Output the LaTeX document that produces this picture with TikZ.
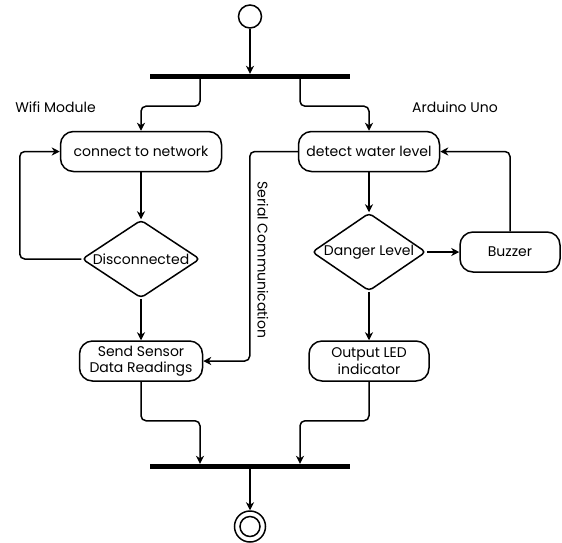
\documentclass[tikz,border=0pt]{standalone}
\usepackage{fontspec}
\setmainfont{Poppins}
\usetikzlibrary{arrows.meta,shapes.geometric}
\begin{document}
\begin{tikzpicture}[x=1pt,y=-1pt,
  every node/.style={font=\fontsize{14}{16.6}\selectfont},
  line/.style={line width=1.5pt,rounded corners=5pt},
  arr/.style={line, -{Stealth[length=8pt,width=8pt,inset=2.5pt]}},
  act/.style={draw,line width=1.5pt,rectangle,rounded corners=13pt,minimum height=40pt,inner sep=1pt,align=center},
  dec/.style={draw,line width=1.5pt,diamond,rounded corners=4pt,inner sep=0pt,shape aspect=1.5,minimum height=78pt},
  bar/.style={fill=black,rectangle,inner sep=0pt,minimum width=200pt,minimum height=5pt},
  state/.style={draw,line width=1.5pt,circle,inner sep=0pt}]
\useasboundingbox (0,0) rectangle (562,542);
\node[state,minimum size=23pt] (start) at (250,16.5) {};
\node[bar] (fork) at (250,76.5) {};
\node (wifi) at (55.5,107) {Wifi Module};
\node (ard) at (455,107) {Arduino Uno};
\node[act,minimum width=161pt] (conn) at (141,151.5) {connect to network};
\node[act,minimum width=141pt] (detect) at (369,151.5) {detect water level};
\node[dec,minimum width=118pt] (disc) at (141,259) {Disconnected};
\node[dec,minimum width=114pt] (danger) at (369,252) {Danger Level};
\node[act,minimum width=100pt] (buzzer) at (510,252) {Buzzer};
\node[act,minimum width=123pt] (send) at (141,361) {Send Sensor\\Data Readings};
\node[act,minimum width=120pt] (output) at (369,361) {Output LED\\indicator};
\node[rotate=-90] (serial) at (263,260) {Serial Communication};
\node[bar] (join) at (250,466.5) {};
\node[state,minimum size=31pt] (end) at (250,526.5) {};
\node[state,minimum size=20pt] (endin) at (end.center) {};

\draw[arr] (start.south) -- (start.south |- fork.north);
\draw[arr] ([xshift=-50pt]fork.south) -- ++(0,27) -| (conn.north);
\draw[arr] ([xshift=50pt]fork.south) -- ++(0,27) -| (detect.north);
\draw[arr] (conn.south) -- (disc.north);
\draw[arr] (disc.west) -| ([xshift=-40pt]conn.west) -- (conn.west);
\draw[arr] (disc.south) -- (send.north);
\draw[arr] (detect.south) -- (danger.north);
\draw[arr] (danger.east) -- (buzzer.west);
\draw[arr] (buzzer.north) |- (detect.east);
\draw[arr] (detect.west) -- ++(-48,0) |- (send.east);
\draw[arr] (danger.south) -- (output.north);
\draw[arr] (send.south) -- ++(0,39) -| ([xshift=-50pt]join.north);
\draw[arr] (output.south) -- ++(0,39) -| ([xshift=50pt]join.north);
\draw[arr] (join.south) -- (end.north);
\end{tikzpicture}
\end{document}
